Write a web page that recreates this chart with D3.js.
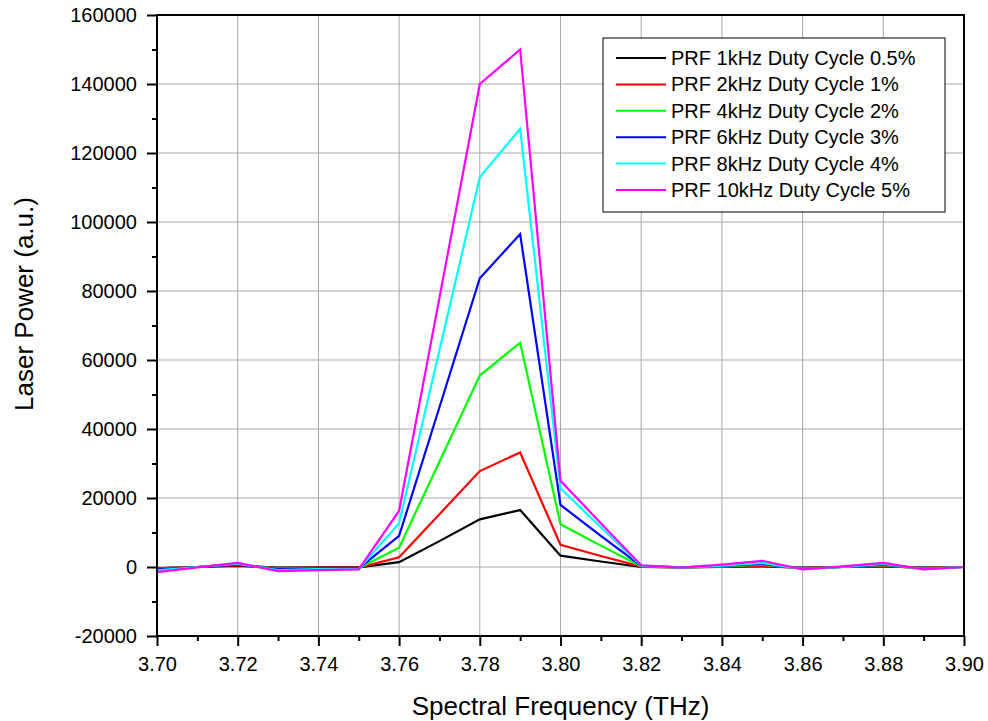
<!DOCTYPE html>
<html lang="en">
<head>
  <meta charset="utf-8">
  <title>Laser Power vs Spectral Frequency</title>
  <style>
    body { margin: 0; background: #fff; }
    svg { display: block; font-family: "Liberation Sans", Arial, sans-serif; }
  </style>
</head>
<body>
  <div id="chart"></div>
<script src="https://cdn.jsdelivr.net/npm/d3@7"></script>
<script>

  ////////////////////////////////////////////////// DATA

  var freqs = [3.70, 3.71, 3.72, 3.73, 3.74, 3.75, 3.76, 3.77, 3.78, 3.79, 3.80,
               3.81, 3.82, 3.83, 3.84, 3.85, 3.86, 3.87, 3.88, 3.89, 3.90];

  var prf1k  = [-300, 0, 300, -200, -100, -100, 1400, 7500, 13800, 16500, 3300,
                1600, 0, -100, 0, 200, -200, 0, 200, -200, 0];
  var prf2k  = [-400, 0, 500, -300, -200, -200, 2800, 15300, 27800, 33200, 6400,
                3200, 100, -100, 100, 400, -300, 0, 300, -300, 0];
  var prf4k  = [-600, 0, 900, -500, -300, -300, 5600, 30500, 55500, 65000, 12400,
                6200, 200, -100, 200, 700, -400, 0, 500, -400, 0];
  var prf6k  = [-700, 0, 700, -600, -400, -400, 9000, 46300, 83700, 96500, 18000,
                9000, 300, -100, 300, 900, -500, 0, 700, -500, 0];
  var prf8k  = [-1000, 0, 900, -900, -600, -600, 12700, 62800, 113000, 127000, 22800,
                11500, 400, -200, 400, 1200, -600, 0, 900, -600, 0];
  var prf10k = [-1500, -100, 1200, -1200, -900, -700, 16300, 78000, 140000, 150000, 25000,
                12700, 500, -200, 700, 1800, -700, 200, 1200, -700, 0];

  var seriesNames = ["PRF 1kHz Duty Cycle 0.5%", "PRF 2kHz Duty Cycle 1%",
                     "PRF 4kHz Duty Cycle 2%", "PRF 6kHz Duty Cycle 3%",
                     "PRF 8kHz Duty Cycle 4%", "PRF 10kHz Duty Cycle 5%"];
  var seriesColors = ["#000000", "#ff0000", "#00ff00", "#0000ff", "#00ffff", "#ff00ff"];

  var xTicks = [3.70, 3.72, 3.74, 3.76, 3.78, 3.80, 3.82, 3.84, 3.86, 3.88, 3.90];
  var yTicks = [-20000, 0, 20000, 40000, 60000, 80000, 100000, 120000, 140000, 160000];

  var xLabel = "Spectral Frequency (THz)";
  var yLabel = "Laser Power (a.u.)";

  ////////////////////////////////////////////////// SETUP

  var width = 988, height = 721;
  var margin = {top: 15, right: 24, bottom: 85, left: 157};
  var plotW = width - margin.left - margin.right;
  var plotH = height - margin.top - margin.bottom;

  var svg = d3.select("#chart").append("svg")
              .attr("width", width)
              .attr("height", height);

  var g = svg.append("g")
             .attr("transform", "translate(" + margin.left + "," + margin.top + ")");

  var x = d3.scaleLinear().domain([3.70, 3.90]).range([0, plotW]);
  var y = d3.scaleLinear().domain([-20000, 160000]).range([plotH, 0]);

  // grid
  g.append("g").selectAll("line.vx")
   .data(xTicks.slice(1, -1)).enter().append("line")
   .attr("x1", function(d){ return x(d); }).attr("x2", function(d){ return x(d); })
   .attr("y1", 0).attr("y2", plotH)
   .attr("stroke", "#a8a8a8").attr("stroke-width", 1);

  g.append("g").selectAll("line.hy")
   .data(yTicks.slice(1, -1)).enter().append("line")
   .attr("y1", function(d){ return y(d); }).attr("y2", function(d){ return y(d); })
   .attr("x1", 0).attr("x2", plotW)
   .attr("stroke", "#a8a8a8").attr("stroke-width", 1);

  // series
  var allSeries = [prf1k, prf2k, prf4k, prf6k, prf8k, prf10k];
  var line = d3.line()
               .x(function(d, i){ return x(freqs[i]); })
               .y(function(d){ return y(d); });

  g.append("g").selectAll("path")
   .data(allSeries).enter().append("path")
   .attr("d", line)
   .attr("fill", "none")
   .attr("stroke", function(d, i){ return seriesColors[i]; })
   .attr("stroke-width", 2.2)
   .attr("stroke-linejoin", "miter");

  // minor tick values
  var xMinor = d3.range(0, 21).map(function(i){ return 3.70 + i * 0.01; })
                 .filter(function(d, i){ return i % 2 === 1; });
  var yMinor = d3.range(0, 9).map(function(i){ return -10000 + i * 20000; });

  // axes
  g.append("g").attr("transform", "translate(0," + plotH + ")")
   .call(d3.axisBottom(x).tickValues(xTicks).tickSize(10).tickPadding(11)
           .tickFormat(d3.format(".2f")));
  g.append("g")
   .call(d3.axisLeft(y).tickValues(yTicks).tickSize(10).tickPadding(10)
           .tickFormat(function(d){ return String(d); }));

  g.append("g").attr("transform", "translate(0," + plotH + ")")
   .call(d3.axisBottom(x).tickValues(xMinor).tickSize(5).tickFormat(""));
  g.append("g")
   .call(d3.axisLeft(y).tickValues(yMinor).tickSize(5).tickFormat(""));

  g.selectAll(".domain").remove();
  g.selectAll(".tick line").attr("stroke", "#000").attr("stroke-width", 2);
  g.selectAll(".tick text").attr("fill", "#000").style("font-size", "20px");

  // frame
  g.append("rect")
   .attr("x", 0).attr("y", 0).attr("width", plotW).attr("height", plotH)
   .attr("fill", "none").attr("stroke", "#000").attr("stroke-width", 2);

  // axis titles
  svg.append("text")
     .attr("x", margin.left + plotW / 2).attr("y", 715)
     .attr("text-anchor", "middle")
     .style("font-size", "26px")
     .text(xLabel);

  svg.append("text")
     .attr("transform", "translate(33,304) rotate(-90)")
     .attr("text-anchor", "middle")
     .style("font-size", "26px")
     .text(yLabel);

  // legend
  var legend = svg.append("g").attr("transform", "translate(603,38)");
  legend.append("rect")
        .attr("width", 342).attr("height", 174)
        .attr("fill", "#fff").attr("stroke", "#000").attr("stroke-width", 1);

  var rows = legend.selectAll("g.row")
                   .data(seriesNames).enter().append("g")
                   .attr("transform", function(d, i){ return "translate(0," + (20 + i * 26.4) + ")"; });
  rows.append("line")
      .attr("x1", 13).attr("x2", 63)
      .attr("stroke", function(d, i){ return seriesColors[i]; })
      .attr("stroke-width", 2);
  rows.append("text")
      .attr("x", 68).attr("y", 7)
      .style("font-size", "20px")
      .text(function(d){ return d; });

</script>
</body>
</html>
